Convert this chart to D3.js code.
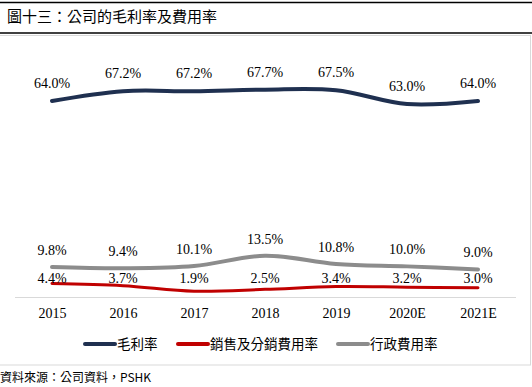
<!DOCTYPE html>
<html>
<head>
<meta charset="utf-8">
<script src="https://cdn.jsdelivr.net/npm/d3@7"></script>
<style>
  body { margin: 0; background: #fff; }
  svg { display: block; }
</style>
</head>
<body>
<svg id="chart" width="532" height="387"></svg>
<script>
// chart values
var years = ["2015", "2016", "2017", "2018", "2019", "2020E", "2021E"];
var grossMargin = [64.0, 67.2, 67.2, 67.7, 67.5, 63.0, 64.0];
var sellingRate = [4.4, 3.7, 1.9, 2.5, 3.4, 3.2, 3.0];
var adminRate = [9.8, 9.4, 10.1, 13.5, 10.8, 10.0, 9.0];
var seriesNames = ["毛利率", "銷售及分銷費用率", "行政費用率"];

var svg = d3.select("#chart");
var W = 532;

// header lines + title
svg.append("line").attr("x1", 0).attr("x2", W).attr("y1", 2.5).attr("y2", 2.5)
  .attr("stroke", "#000").attr("stroke-width", 1.5);
svg.append("line").attr("x1", 0).attr("x2", W).attr("y1", 33).attr("y2", 33)
  .attr("stroke", "#000").attr("stroke-width", 1.5);
svg.append("text").attr("x", 7).attr("y", 21.5)
  .attr("font-family", "'Noto Sans CJK TC', sans-serif").attr("font-size", 15)
  .attr("fill", "#000").text("圖十三：公司的毛利率及費用率");

// chart frame
svg.append("rect").attr("x", -1).attr("y", 35.5).attr("width", 531.5).attr("height", 329.5)
  .attr("fill", "none").attr("stroke", "#D9D9D9").attr("stroke-width", 1);

var x = d3.scalePoint().domain(years).range([52, 478]);
var y = d3.scaleLinear().domain([0, 80]).range([297, 52]);

// category axis
var xAxis = d3.axisBottom(x).tickSize(0).tickPadding(11);
var gx = svg.append("g").attr("transform", "translate(0,297)").call(xAxis);
gx.select(".domain").remove();
gx.selectAll("text").attr("font-family", "'Liberation Serif', serif")
  .attr("font-size", 14).attr("fill", "#000");
svg.append("line").attr("x1", 15).attr("x2", 516).attr("y1", 297.5).attr("y2", 297.5)
  .attr("stroke", "#D9D9D9").attr("stroke-width", 1);

var series = [
  { name: seriesNames[0], values: grossMargin, color: "#1F3050", width: 4, labelY: function (v) { return y(v) - 13; } },
  { name: seriesNames[1], values: sellingRate, color: "#C00000", width: 3, labelY: function (v) { return y(0) - 14; } },
  { name: seriesNames[2], values: adminRate, color: "#8C8C8C", width: 4, labelY: function (v) { return y(v) - 12; } }
];

var line = d3.line()
  .x(function (d, i) { return x(years[i]); })
  .y(function (d) { return y(d); })
  .curve(d3.curveCatmullRom.alpha(0.5));

// draw grey first, then red, then navy
[series[2], series[1], series[0]].forEach(function (s) {
  svg.append("path").datum(s.values)
    .attr("d", line)
    .attr("fill", "none")
    .attr("stroke", s.color)
    .attr("stroke-width", s.width)
    .attr("stroke-linecap", "round");
});

series.forEach(function (s) {
  svg.append("g").selectAll("text").data(s.values).enter().append("text")
    .attr("x", function (d, i) { return x(years[i]); })
    .attr("y", function (d) { return s.labelY(d); })
    .attr("text-anchor", "middle")
    .attr("font-family", "'Liberation Serif', serif")
    .attr("font-size", 14)
    .attr("fill", "#000")
    .text(function (d) { return d.toFixed(1) + "%"; });
});

// legend
var legendX = [85, 178, 338];
var lg = svg.append("g").selectAll("g").data(series).enter().append("g")
  .attr("transform", function (d, i) { return "translate(" + legendX[i] + ",344)"; });
lg.append("line").attr("x1", 0).attr("x2", 30).attr("y1", 0).attr("y2", 0)
  .attr("stroke", function (d) { return d.color; }).attr("stroke-width", 4)
  .attr("stroke-linecap", "round");
lg.append("text").attr("x", 32).attr("y", 5)
  .attr("font-family", "'Noto Sans CJK TC', sans-serif").attr("font-size", 13.5)
  .attr("fill", "#000").text(function (d) { return d.name; });

// source
svg.append("text").attr("x", 0).attr("y", 382)
  .attr("font-family", "'Noto Sans CJK TC', sans-serif").attr("font-size", 12)
  .attr("fill", "#000").text("資料來源：公司資料，PSHK");
</script>
</body>
</html>
